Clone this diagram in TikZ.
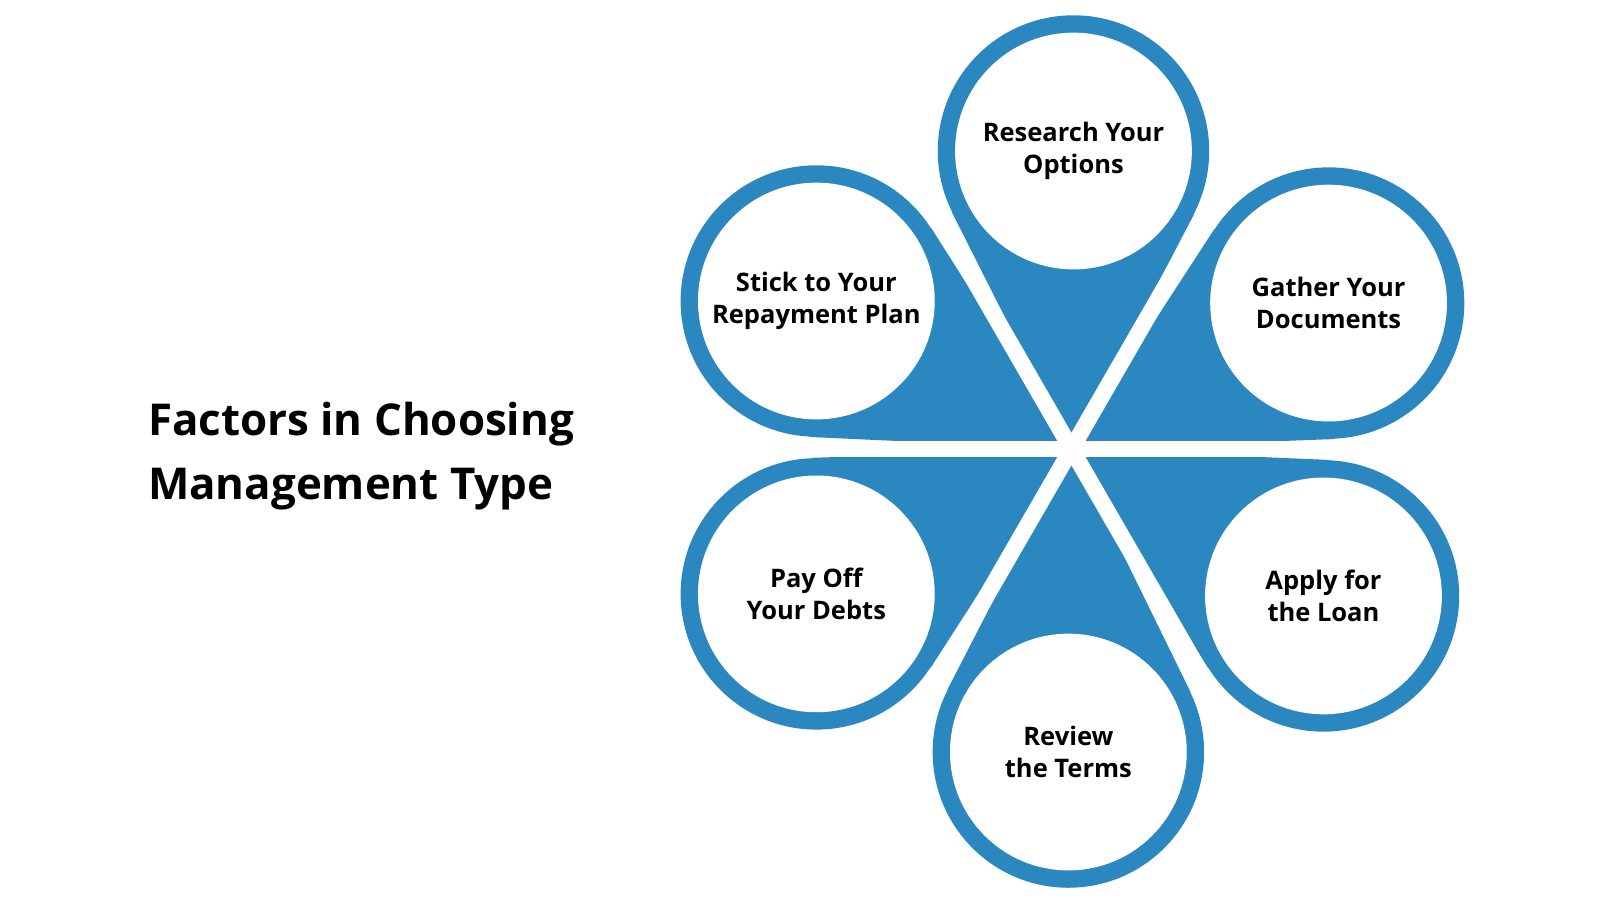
\documentclass[tikz,border=0pt]{standalone}
\usepackage{fontspec}
\setmainfont{Open Sans}
\usetikzlibrary{calc}
\definecolor{pblue}{HTML}{2B87C0}
\begin{document}
\begin{tikzpicture}[x=0.5pt,y=-0.5pt,
  outer/.style={circle,fill=pblue,minimum size=133pt,inner sep=0pt},
  inner/.style={circle,fill=white,minimum size=116pt,inner sep=0pt,align=center,font=\fontsize{12.5}{15.5}\selectfont\bfseries}]
\useasboundingbox (0,0) rectangle (1568,882);
\coordinate (O) at (1050,440);
\foreach \n/\x/\y in {a/1052/148,b/1302/297,c/1297/584,d/1047/737,e/800/582,f/800/295}{
  \node[outer] (\n) at (\x,\y) {};
  \fill[pblue] (O) -- (tangent cs:node=\n,point={(O)},solution=1) -- (\n.center) -- (tangent cs:node=\n,point={(O)},solution=2) -- cycle;
}
\foreach \a in {0,60,120}{
  \draw[white,line width=8pt] ($(O)+(\a:-300)$) -- ($(O)+(\a:300)$);
}
\node[inner] (ia) at (a) {Research Your\\Options};
\node[inner] (ib) at (b) {Gather Your\\Documents};
\node[inner] (ic) at (c) {Apply for\\the Loan};
\node[inner] (id) at (d) {Review\\the Terms};
\node[inner] (ie) at (e) {Pay Off\\Your Debts};
\node[inner] (if) at (f) {Stick to Your\\Repayment Plan};
\node[anchor=west,align=left,font=\fontsize{21.5}{31}\selectfont\bfseries] (t) at (138,447) {Factors in Choosing\\Management Type};
\end{tikzpicture}
\end{document}
